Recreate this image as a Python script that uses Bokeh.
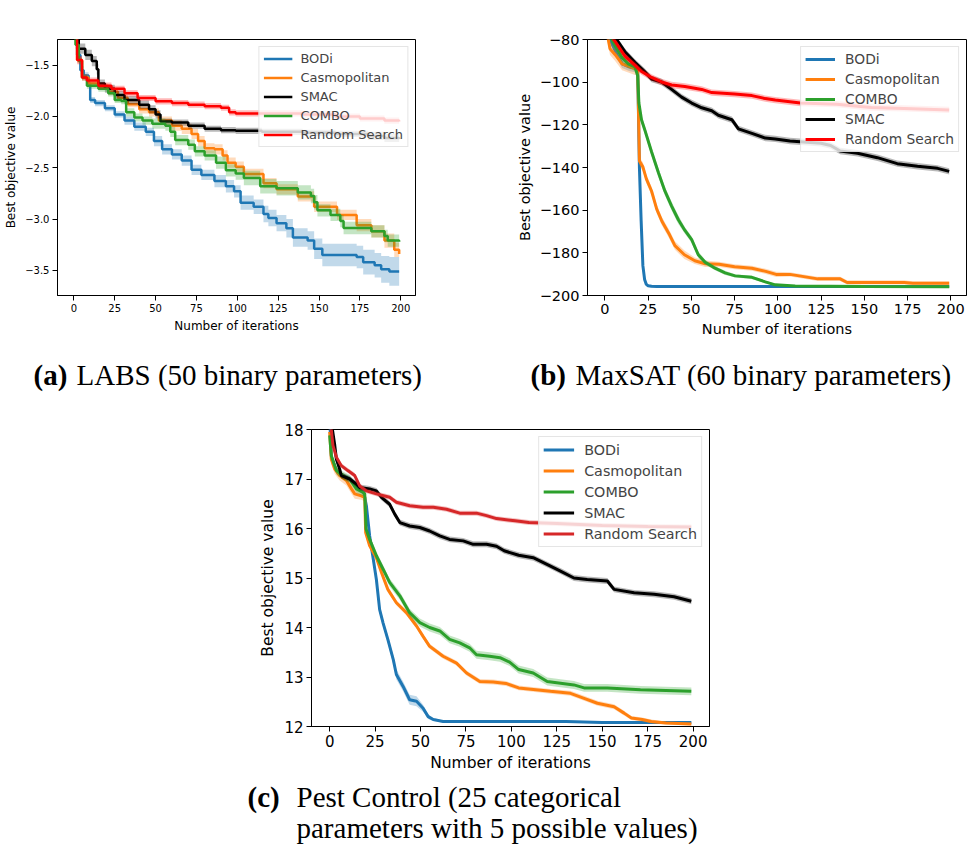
from bokeh.plotting import figure
from bokeh.models import (Range1d, FixedTicker, Legend, LegendItem,
                          CustomJSTickFormatter, Spacer)
from bokeh.layouts import column, row
from bokeh.embed import file_html
from bokeh.resources import INLINE
from bokeh.core.properties import value

# ---------------- (a) LABS ----------------
labs_bodi_x = [0, 2, 4, 6, 9, 10, 13, 19, 25, 31, 37, 44, 49, 54, 60, 66, 72, 78, 86, 93, 98, 102, 110, 116, 119, 124, 130, 134, 143, 147, 152, 173, 177, 184, 188, 193, 199]
labs_bodi_y = [-1.15, -1.40, -1.55, -1.60, -1.68, -1.84, -1.87, -1.92, -1.98, -2.04, -2.10, -2.15, -2.24, -2.32, -2.37, -2.43, -2.52, -2.57, -2.63, -2.68, -2.73, -2.84, -2.88, -2.95, -2.99, -3.04, -3.09, -3.18, -3.21, -3.29, -3.35, -3.37, -3.42, -3.45, -3.49, -3.51, -3.51]
labs_bodi_e = [0.05, 0.04, 0.04, 0.03, 0.03, 0.03, 0.03, 0.03, 0.03, 0.04, 0.04, 0.04, 0.05, 0.05, 0.05, 0.05, 0.05, 0.05, 0.06, 0.06, 0.06, 0.07, 0.07, 0.08, 0.08, 0.08, 0.09, 0.09, 0.09, 0.10, 0.11, 0.11, 0.12, 0.12, 0.13, 0.14, 0.14]

labs_casmo_x = [0, 2, 5, 9, 15, 21, 27, 33, 40, 46, 52, 60, 66, 72, 76, 80, 86, 91, 94, 99, 104, 116, 124, 137, 147, 161, 173, 182, 190, 196, 199]
labs_casmo_y = [-1.15, -1.45, -1.62, -1.68, -1.71, -1.76, -1.82, -1.88, -1.93, -1.96, -2.04, -2.09, -2.12, -2.17, -2.24, -2.31, -2.32, -2.38, -2.45, -2.49, -2.56, -2.65, -2.71, -2.78, -2.88, -2.96, -3.06, -3.12, -3.21, -3.30, -3.34]
labs_casmo_e = [0.04, 0.03, 0.03, 0.03, 0.03, 0.03, 0.03, 0.03, 0.04, 0.04, 0.04, 0.05, 0.05, 0.05, 0.05, 0.05, 0.05, 0.05, 0.05, 0.05, 0.05, 0.05, 0.05, 0.05, 0.05, 0.05, 0.06, 0.06, 0.07, 0.07, 0.07]

labs_smac_x = [0, 3, 7, 11, 14, 15, 19, 25, 31, 40, 46, 50, 53, 60, 70, 80, 90, 99, 115, 140, 160, 180, 190, 199]
labs_smac_y = [-1.15, -1.34, -1.40, -1.46, -1.54, -1.68, -1.73, -1.79, -1.84, -1.885, -1.93, -1.98, -2.05, -2.06, -2.09, -2.12, -2.134, -2.14, -2.15, -2.16, -2.17, -2.19, -2.21, -2.22]
labs_smac_e = [0.05, 0.05, 0.05, 0.05, 0.05, 0.04, 0.04, 0.04, 0.04, 0.04, 0.04, 0.04, 0.03, 0.03, 0.03, 0.03, 0.03, 0.03, 0.03, 0.03, 0.03, 0.04, 0.04, 0.04]

labs_combo_x = [0, 1, 3, 5, 8, 15, 21, 25, 29, 32, 37, 42, 48, 56, 59, 62, 70, 74, 80, 87, 93, 99, 104, 114, 124, 137, 145, 147, 149, 157, 163, 165, 177, 182, 190, 192, 199]
labs_combo_y = [-1.15, -1.30, -1.46, -1.62, -1.70, -1.73, -1.775, -1.84, -1.85, -1.96, -2.01, -2.04, -2.07, -2.09, -2.15, -2.23, -2.275, -2.34, -2.38, -2.45, -2.525, -2.556, -2.60, -2.68, -2.70, -2.74, -2.775, -2.836, -2.915, -2.96, -3.02, -3.087, -3.087, -3.12, -3.165, -3.21, -3.22]
labs_combo_e = [0.04, 0.04, 0.03, 0.03, 0.03, 0.03, 0.03, 0.03, 0.03, 0.04, 0.04, 0.04, 0.05, 0.05, 0.05, 0.05, 0.05, 0.05, 0.05, 0.06, 0.06, 0.06, 0.07, 0.07, 0.07, 0.07, 0.07, 0.07, 0.06, 0.06, 0.06, 0.06, 0.06, 0.06, 0.06, 0.06, 0.06]

labs_rs_x = [0, 2, 5, 8, 15, 23, 31, 39, 50, 60, 70, 80, 90, 95, 99, 120, 140, 160, 175, 190, 199]
labs_rs_y = [-1.15, -1.45, -1.62, -1.65, -1.70, -1.73, -1.775, -1.82, -1.853, -1.87, -1.885, -1.90, -1.915, -1.96, -1.97, -1.97, -1.98, -2.0, -2.02, -2.04, -2.05]
labs_rs_e = [0.04, 0.04, 0.03, 0.03, 0.03, 0.03, 0.03, 0.03, 0.03, 0.03, 0.03, 0.03, 0.03, 0.03, 0.03, 0.03, 0.03, 0.03, 0.03, 0.03, 0.03]

# ---------------- (b) MaxSAT ----------------
maxsat_bodi_x = [0, 3, 7, 10, 14, 18, 19, 20, 21, 22, 23, 24, 25, 27, 30, 60, 100, 150, 199]
maxsat_bodi_y = [-72, -80, -87, -91.4, -92.8, -93.5, -94, -140, -165, -186, -192.5, -194.8, -195.4, -195.7, -195.8, -195.8, -195.8, -195.8, -195.8]
maxsat_bodi_e = [2, 2, 2, 2, 2, 2, 2, 2, 2, 1.5, 1, 0.6, 0.5, 0.5, 0.5, 0.5, 0.5, 0.5, 0.5]

maxsat_casmo_x = [0, 2, 3, 6, 10, 13.5, 17, 19, 19.5, 20, 22, 24, 27, 30, 33, 37, 40.5, 46, 52, 58, 66, 75, 85, 93, 99, 107, 123, 136, 140, 173, 178, 199]
maxsat_casmo_y = [-72, -80, -84.3, -87.1, -91.4, -92.5, -93.5, -94, -115, -137, -139.7, -145.3, -151, -159.5, -165.2, -170.9, -176.6, -180.9, -183.7, -185.1, -185.4, -186.5, -187.2, -188.7, -190.1, -190.1, -192.2, -192.2, -193.9, -193.9, -194.3, -194.3]
maxsat_casmo_e = [3, 3, 3, 3, 3, 3, 3, 3, 2.5, 2, 2, 2, 2, 2, 2, 2, 2, 2, 1.5, 1.5, 1.2, 1.2, 1.2, 1.2, 1.2, 1, 1, 1, 1, 1, 1, 1]

maxsat_combo_x = [0, 4, 7, 10, 13.5, 17.4, 19, 19.7, 21.2, 23.2, 27, 31, 34.7, 38.6, 42.5, 46.3, 50.2, 54, 58, 63.7, 69.5, 75.3, 85, 92.7, 98.5, 110, 150, 199]
maxsat_combo_y = [-72, -80, -84.3, -88.5, -91.4, -92.8, -97, -109.8, -117.6, -122.6, -132.6, -142.5, -151, -158.1, -164.5, -169.5, -173.8, -180.9, -184.4, -187.2, -189.4, -190.8, -191.5, -193.6, -195, -195.6, -195.8, -195.9]
maxsat_combo_e = [2, 2, 2, 2, 2, 2, 2, 2, 2, 2, 2, 2, 2, 2, 2, 1.5, 1.5, 1.5, 1.2, 1, 1, 0.8, 0.8, 0.6, 0.5, 0.4, 0.4, 0.4]

maxsat_smac_x = [0, 6.8, 11.6, 17.4, 23, 27, 32.8, 38.6, 44.4, 50.2, 56, 61.8, 65.6, 73.4, 77.2, 85, 92.7, 98.5, 107, 125, 130.5, 136, 146, 157.5, 169, 180.7, 192.3, 199]
maxsat_smac_y = [-70, -80, -85.7, -90.7, -95, -98.5, -99.9, -103.4, -107, -109.8, -112, -113.4, -115.5, -117.6, -121.9, -124, -126.2, -126.6, -127.6, -128.6, -129.7, -132.3, -133.3, -135.4, -138.2, -139.4, -140.4, -141.8]
maxsat_smac_e = [1.5, 1.5, 1.5, 1.5, 1.5, 1.5, 1.5, 1.5, 1.5, 1.5, 1.5, 1.5, 1.5, 1.5, 1.5, 1.5, 1.5, 1.5, 1.5, 1.5, 1.5, 1.5, 1.5, 1.5, 1.5, 1.5, 1.5, 1.5]

maxsat_rs_x = [0, 5, 5.8, 11.6, 17.4, 21.2, 27, 32.8, 38.6, 46.3, 56, 61.8, 75, 85, 92.7, 98.5, 113, 134, 154, 173, 199]
maxsat_rs_y = [-70, -80, -80.7, -87.8, -92, -95, -97.8, -99.9, -101.3, -102, -103.4, -104.9, -105.6, -106.3, -107.7, -108.4, -109.8, -110.3, -111.9, -112.3, -113.0]
maxsat_rs_e = [1.5, 1.5, 1.5, 1.5, 1.5, 1.5, 1.5, 1.5, 1.5, 1.5, 1.5, 1.5, 1.5, 1.5, 1.5, 1.5, 1.5, 1.5, 1.5, 1.5, 1.5]

# ---------------- (c) Pest Control ----------------
pest_bodi_x = [0, 1, 3.7, 7.3, 11, 14.7, 18.4, 20.2, 22, 24, 25.7, 27.5, 29.4, 32, 35, 36.7, 40.4, 44, 47.8, 51.4, 54.2, 57, 62.4, 130, 150, 199]
pest_bodi_y = [18.2, 17.44, 17.17, 17.07, 17.0, 16.86, 16.8, 16.46, 15.85, 15.38, 14.97, 14.36, 14.09, 13.76, 13.35, 13.05, 12.81, 12.54, 12.51, 12.37, 12.2, 12.14, 12.1, 12.1, 12.08, 12.08]
pest_bodi_e = [0.08, 0.08, 0.06, 0.05, 0.05, 0.05, 0.05, 0.06, 0.07, 0.08, 0.08, 0.08, 0.08, 0.08, 0.09, 0.1, 0.1, 0.1, 0.1, 0.07, 0.05, 0.03, 0.02, 0.02, 0.02, 0.02]

pest_casmo_x = [0, 0.9, 2.8, 5.5, 9.2, 12, 13.8, 17.4, 19.3, 19.8, 22, 25.7, 28.5, 32, 36.7, 42.2, 47.8, 51.4, 55, 62.4, 69.8, 75.3, 82.6, 90, 97, 104, 121.5, 132.5, 140, 147.3, 156.5, 162, 166, 172, 177, 185, 199]
pest_casmo_y = [17.95, 17.4, 17.2, 17.07, 16.97, 16.8, 16.7, 16.66, 16.63, 15.92, 15.65, 15.41, 15.11, 14.77, 14.5, 14.3, 14.03, 13.82, 13.62, 13.42, 13.28, 13.08, 12.91, 12.9, 12.87, 12.78, 12.71, 12.67, 12.57, 12.47, 12.40, 12.27, 12.17, 12.14, 12.1, 12.07, 12.05]
pest_casmo_e = [0.1, 0.1, 0.1, 0.1, 0.1, 0.1, 0.1, 0.08, 0.08, 0.08, 0.06, 0.06, 0.06, 0.06, 0.05, 0.05, 0.05, 0.05, 0.05, 0.05, 0.05, 0.05, 0.05, 0.05, 0.05, 0.05, 0.05, 0.05, 0.05, 0.05, 0.05, 0.05, 0.04, 0.04, 0.04, 0.03, 0.03]

pest_combo_x = [0, 0.9, 3.7, 7.3, 11, 14.7, 18.4, 19.3, 20, 22, 25.7, 29.4, 33, 38.6, 44, 49.6, 55, 60.6, 66, 71.6, 77, 80.8, 88, 93.7, 99, 104, 112, 119.7, 134.4, 140, 152.8, 171, 199]
pest_combo_y = [17.88, 17.47, 17.17, 17.07, 17.0, 16.8, 16.73, 16.7, 15.99, 15.78, 15.45, 15.18, 14.91, 14.64, 14.3, 14.1, 14.0, 13.93, 13.76, 13.69, 13.59, 13.45, 13.42, 13.39, 13.3, 13.15, 13.08, 12.91, 12.84, 12.78, 12.78, 12.74, 12.71]
pest_combo_e = [0.08, 0.08, 0.08, 0.08, 0.08, 0.08, 0.08, 0.08, 0.08, 0.08, 0.08, 0.08, 0.08, 0.08, 0.08, 0.08, 0.08, 0.08, 0.08, 0.08, 0.08, 0.08, 0.08, 0.08, 0.08, 0.08, 0.08, 0.08, 0.08, 0.08, 0.08, 0.08, 0.08]

pest_smac_x = [0, 1.5, 2.8, 3.7, 5.5, 6.4, 11, 14.7, 16.5, 22, 25.7, 28.5, 33, 35.8, 38.6, 44, 49.6, 55, 60.6, 66, 73.5, 79, 86.3, 91.8, 96, 104, 112, 121.5, 127, 134.4, 141.7, 152.8, 156.5, 167.5, 178.5, 189.5, 199]
pest_smac_y = [18.6, 18.0, 17.68, 17.4, 17.2, 17.07, 17.0, 16.9, 16.83, 16.8, 16.76, 16.63, 16.49, 16.29, 16.12, 16.05, 16.02, 15.95, 15.85, 15.78, 15.75, 15.68, 15.68, 15.64, 15.55, 15.46, 15.41, 15.24, 15.14, 15.0, 14.97, 14.94, 14.77, 14.70, 14.67, 14.62, 14.53]
pest_smac_e = [0.06, 0.06, 0.06, 0.06, 0.06, 0.06, 0.06, 0.06, 0.06, 0.06, 0.06, 0.06, 0.06, 0.06, 0.06, 0.06, 0.06, 0.06, 0.06, 0.06, 0.06, 0.06, 0.06, 0.06, 0.06, 0.06, 0.06, 0.06, 0.06, 0.06, 0.06, 0.06, 0.06, 0.06, 0.06, 0.06, 0.06]

pest_rs_x = [0, 1.8, 3.7, 6.4, 10, 13.8, 16.5, 20.2, 25.7, 33, 36.7, 44, 51.4, 57, 64.3, 71.6, 80.8, 86.3, 91.8, 102, 109.6, 125, 150, 175, 199]
pest_rs_y = [18.3, 17.68, 17.44, 17.27, 17.17, 17.07, 16.86, 16.76, 16.70, 16.63, 16.53, 16.46, 16.43, 16.43, 16.39, 16.31, 16.31, 16.26, 16.2, 16.155, 16.12, 16.1, 16.06, 16.04, 16.03]
pest_rs_e = [0.05, 0.05, 0.05, 0.05, 0.05, 0.05, 0.05, 0.05, 0.05, 0.05, 0.05, 0.05, 0.05, 0.05, 0.05, 0.05, 0.05, 0.05, 0.05, 0.05, 0.05, 0.05, 0.05, 0.05, 0.05]

x_ticks = [0, 25, 50, 75, 100, 125, 150, 175, 200]

caption_a = ("(a)", "LABS (50 binary parameters)")
caption_b = ("(b)", "MaxSAT (60 binary parameters)")
caption_c = ("(c)", "Pest Control (25 categorical", "parameters with 5 possible values)")

BLUE, ORANGE, GREEN, BLACK = "#1f77b4", "#ff7f0e", "#2ca02c", "black"
SANS = "DejaVu Sans"
SERIF = "Liberation Serif"


def stairs(x, y, e):
    """Expand key points into a step-after path."""
    xs, ys, es = [], [], []
    for i in range(len(x)):
        xs.append(x[i]); ys.append(y[i]); es.append(e[i])
        if i + 1 < len(x):
            xs.append(x[i + 1]); ys.append(y[i]); es.append(e[i])
    return xs, ys, es


def panel(width, height, borders, y_range, y_ticks, y_fmt, series, step,
          line_w, tick_fs, label_fs, leg):
    left, right, top, bottom = borders
    p = figure(width=width, height=height, output_backend="svg",
               toolbar_location=None, x_range=Range1d(-10, 209),
               y_range=Range1d(*y_range),
               min_border_left=left, min_border_right=right,
               min_border_top=top, min_border_bottom=bottom)
    p.xgrid.visible = False
    p.ygrid.visible = False
    p.outline_line_color = "black"
    p.outline_line_alpha = 1.0
    p.outline_line_width = 1
    p.background_fill_color = "white"
    p.border_fill_color = "white"

    items = []
    for name, color, x, y, e in series:
        if step:
            x, y, e = stairs(x, y, e)
        lo = [a - b for a, b in zip(y, e)]
        hi = [a + b for a, b in zip(y, e)]
        p.varea(x=x, y1=lo, y2=hi, fill_color=color, fill_alpha=0.28)
        r = p.line(x, y, line_color=color, line_width=line_w)
        items.append(LegendItem(label=name, renderers=[r]))

    p.xaxis.ticker = FixedTicker(ticks=x_ticks)
    p.yaxis.ticker = FixedTicker(ticks=y_ticks)
    p.yaxis.formatter = CustomJSTickFormatter(code=y_fmt)
    p.xaxis.axis_label = "Number of iterations"
    p.yaxis.axis_label = "Best objective value"
    for ax in (p.xaxis[0], p.yaxis[0]):
        ax.axis_line_color = "black"
        ax.major_tick_line_color = "black"
        ax.major_tick_in = 0
        ax.major_tick_out = 5
        ax.minor_tick_in = 0
        ax.minor_tick_out = 0
        ax.major_label_standoff = 3
        ax.axis_label_standoff = 4
        ax.major_label_text_font = SANS
        ax.major_label_text_font_size = tick_fs
        ax.major_label_text_color = "black"
        ax.axis_label_text_font = SANS
        ax.axis_label_text_font_size = label_fs
        ax.axis_label_text_font_style = "normal"
        ax.axis_label_text_color = "black"

    glyph_w, item_h, spacing, standoff, fs = leg
    legend = Legend(items=items, location="top_right", margin=7, padding=4,
                    spacing=spacing, glyph_width=glyph_w, glyph_height=item_h,
                    label_height=item_h, label_standoff=standoff,
                    label_text_font=SANS, label_text_font_size=fs,
                    border_line_color="#cccccc", border_line_width=1,
                    background_fill_alpha=0.8)
    p.add_layout(legend)
    return p


def caption_strip(width, height, pieces):
    """A bare canvas (pixel coordinates, y downwards) holding caption text."""
    p = figure(width=width, height=height, output_backend="svg",
               toolbar_location=None, x_axis_type=None, y_axis_type=None,
               x_range=Range1d(0, width), y_range=Range1d(height, 0),
               min_border_left=0, min_border_right=0,
               min_border_top=0, min_border_bottom=0)
    p.grid.visible = False
    p.outline_line_color = None
    p.background_fill_color = "white"
    p.border_fill_color = "white"
    for x, y, txt, bold in pieces:
        p.text(x=[x], y=[y], text=[txt], text_font=value(SERIF),
               text_font_size=value("29px"),
               text_font_style="bold" if bold else "normal",
               text_baseline="middle", text_align="left", text_color="black")
    return p


fmt1 = "return (tick < 0 ? '\\u2212' : '') + Math.abs(tick).toFixed(1);"
fmt0 = "return (tick < 0 ? '\\u2212' : '') + Math.abs(tick).toFixed(0);"

pa = panel(500, 350, (57, 85, 39, 45), (-3.745, -1.25),
           [-3.5, -3.0, -2.5, -2.0, -1.5], fmt1,
           [("BODi", BLUE, labs_bodi_x, labs_bodi_y, labs_bodi_e),
            ("Casmopolitan", ORANGE, labs_casmo_x, labs_casmo_y, labs_casmo_e),
            ("SMAC", BLACK, labs_smac_x, labs_smac_y, labs_smac_e),
            ("COMBO", GREEN, labs_combo_x, labs_combo_y, labs_combo_e),
            ("Random Search", "#ff0000", labs_rs_x, labs_rs_y, labs_rs_e)],
           True, 2.5, "10px", "12px", (29, 15, 4, 8, "13px"))

pb = panel(467, 350, (87, 1, 13, 55), (-200, -80),
           [-200, -180, -160, -140, -120, -100, -80], fmt0,
           [("BODi", BLUE, maxsat_bodi_x, maxsat_bodi_y, maxsat_bodi_e),
            ("Casmopolitan", ORANGE, maxsat_casmo_x, maxsat_casmo_y, maxsat_casmo_e),
            ("COMBO", GREEN, maxsat_combo_x, maxsat_combo_y, maxsat_combo_e),
            ("SMAC", BLACK, maxsat_smac_x, maxsat_smac_y, maxsat_smac_e),
            ("Random Search", "#ff0000", maxsat_rs_x, maxsat_rs_y, maxsat_rs_e)],
           False, 3, "14.5px", "14.5px", (30, 16, 4, 10, "13.8px"))

pc = panel(500, 376, (81, 21, 24, 55), (12, 18),
           [12, 13, 14, 15, 16, 17, 18], fmt0,
           [("BODi", BLUE, pest_bodi_x, pest_bodi_y, pest_bodi_e),
            ("Casmopolitan", ORANGE, pest_casmo_x, pest_casmo_y, pest_casmo_e),
            ("COMBO", GREEN, pest_combo_x, pest_combo_y, pest_combo_e),
            ("SMAC", BLACK, pest_smac_x, pest_smac_y, pest_smac_e),
            ("Random Search", "#d62728", pest_rs_x, pest_rs_y, pest_rs_e)],
           False, 3, "15px", "15.5px", (31, 17, 4, 10, "14.3px"))

cap_top = caption_strip(967, 55, [
    (33, 24, caption_a[0], True), (76, 24, caption_a[1], False),
    (530, 24, caption_b[0], True), (575, 24, caption_b[1], False)])
cap_bottom = caption_strip(967, 67, [
    (247, 15, caption_c[0], True), (296, 15, caption_c[1], False),
    (296, 46, caption_c[2], False)])

layout = column(row(pa, pb), cap_top,
                row(Spacer(width=230, height=376), pc), cap_bottom)

with open("out.html", "w") as f:
    f.write(file_html(layout, INLINE))
